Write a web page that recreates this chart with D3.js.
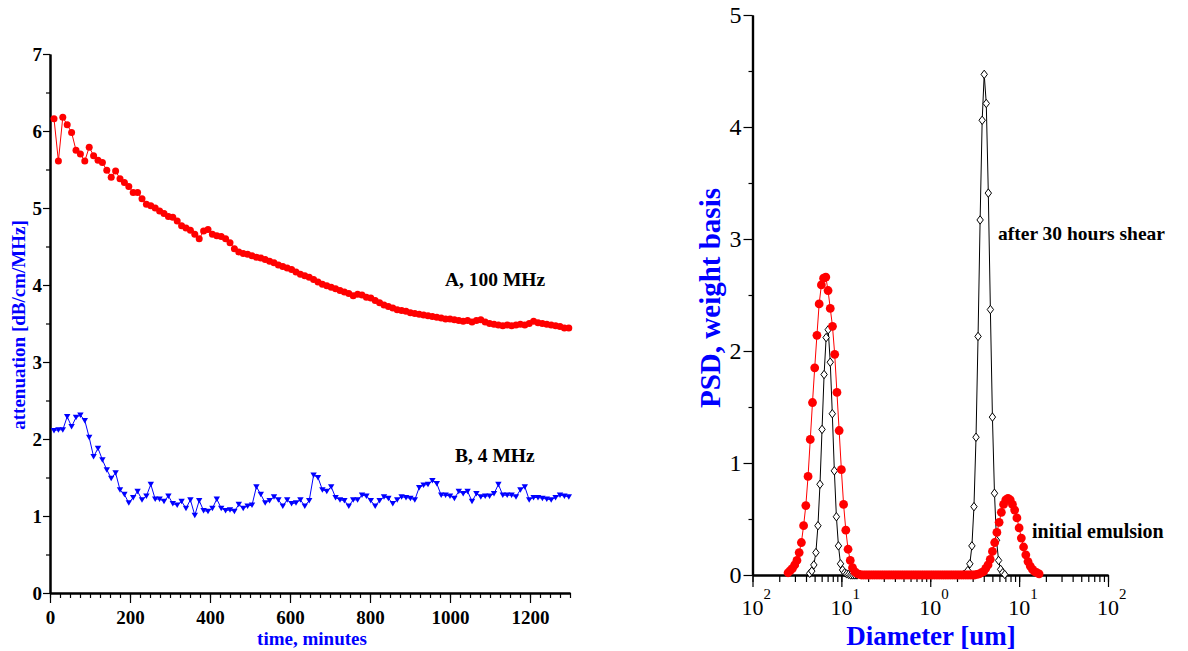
<!DOCTYPE html>
<html><head><meta charset="utf-8">
<script src="https://cdn.jsdelivr.net/npm/d3@7"></script>
<style>
body{margin:0;background:#fff}
svg{display:block}
text{font-family:"Liberation Serif","Times New Roman",serif}
</style>
</head><body>
<svg id="c" width="1188" height="651"></svg>
<script>
// ---------- Left chart data ----------
const timeMin = [10,21,32,43,54,65,76,87,98,109,120,131,142,153,164,175,186,197,208,219,
230,241,252,263,274,285,296,307,318,329,340,351,362,373,384,395,406,417,428,439,
450,461,472,483,494,505,516,527,538,549,560,571,582,593,604,615,626,637,648,659,
670,681,692,703,714,725,736,747,758,769,780,791,802,813,824,835,846,857,868,879,
890,901,912,923,934,945,956,967,978,989,1000,1011,1022,1033,1044,1055,1066,1077,1088,1099,
1110,1121,1132,1143,1154,1165,1176,1187,1198,1209,1220,1231,1242,1253,1264,1275,1286,1297];
const attenA = [6.16,5.61,6.18,6.08,5.98,5.75,5.70,5.61,5.79,5.68,5.62,5.59,5.49,5.40,5.48,5.38,5.33,5.28,5.20,5.20,
5.12,5.05,5.03,5.00,4.96,4.93,4.89,4.88,4.83,4.77,4.74,4.71,4.66,4.60,4.70,4.72,4.66,4.64,4.63,4.60,
4.55,4.47,4.43,4.41,4.40,4.38,4.36,4.35,4.33,4.31,4.29,4.26,4.24,4.22,4.20,4.17,4.14,4.12,4.10,4.07,
4.04,4.01,3.99,3.97,3.95,3.93,3.91,3.89,3.86,3.88,3.87,3.84,3.83,3.80,3.77,3.74,3.72,3.70,3.68,3.67,
3.66,3.64,3.63,3.62,3.61,3.60,3.59,3.58,3.57,3.56,3.56,3.55,3.54,3.53,3.54,3.52,3.54,3.55,3.52,3.50,
3.49,3.48,3.47,3.48,3.47,3.48,3.49,3.48,3.50,3.53,3.51,3.50,3.49,3.48,3.47,3.46,3.44,3.44];
const attenB = [2.11,2.12,2.12,2.29,2.16,2.28,2.31,2.24,2.02,1.77,
1.88,1.73,1.60,1.49,1.56,1.34,1.28,1.17,1.24,1.32,
1.21,1.26,1.41,1.22,1.22,1.19,1.26,1.16,1.14,1.19,
1.10,1.21,1.01,1.20,1.07,1.06,1.10,1.22,1.10,1.07,
1.08,1.06,1.15,1.10,1.13,1.14,1.38,1.28,1.17,1.20,
1.25,1.21,1.13,1.21,1.16,1.17,1.21,1.13,1.20,1.53,
1.50,1.34,1.32,1.38,1.24,1.21,1.20,1.13,1.21,1.21,
1.27,1.26,1.20,1.13,1.20,1.25,1.23,1.16,1.21,1.25,
1.24,1.23,1.21,1.37,1.40,1.41,1.46,1.42,1.27,1.27,
1.26,1.23,1.32,1.29,1.32,1.19,1.29,1.25,1.26,1.26,
1.29,1.41,1.27,1.27,1.27,1.25,1.34,1.38,1.21,1.24,
1.24,1.23,1.22,1.21,1.24,1.27,1.26,1.25];
const leftYTicks = [0,1,2,3,4,5,6,7];
const leftXTicks = [0,200,400,600,800,1000,1200];

// ---------- Right chart data ----------
const diamRed = [0.02512,0.02661,0.02818,0.02985,0.03162,0.03350,0.03548,0.03758,0.03981,0.04217,0.04467,0.04732,
0.05012,0.05309,0.05623,0.05957,0.06310,0.06683,0.07079,0.07499,0.07943,0.08414,0.08913,0.09441,
0.1000,0.1059,0.1122,0.1189,0.1259,0.1334,0.1413,0.1496,0.1585,0.1679,0.1778,0.1884,0.1995,0.2113,0.2239,0.2371,
0.2512,0.2661,0.2818,0.2985,0.3162,0.3350,0.3548,0.3758,0.3981,0.4217,0.4467,0.4732,0.5012,0.5309,0.5623,0.5957,
0.6310,0.6683,0.7079,0.7499,0.7943,0.8414,0.8913,0.9441,
1.000,1.059,1.122,1.189,1.259,1.334,1.413,1.496,1.585,1.679,1.778,1.884,1.995,2.113,2.239,2.371,
2.512,2.661,2.818,2.985,3.162,3.350,3.548,3.758,3.981,4.217,4.467,4.732,5.012,5.309,5.623,5.957,
6.310,6.683,7.079,7.499,7.943,8.414,8.913,9.441,
10.00,10.59,11.22,11.89,12.59,13.34,14.13,14.96,15.85,16.79];
const psdRed = [0.02,0.04,0.06,0.09,0.13,0.20,0.29,0.44,0.62,0.88,
1.21,1.54,1.85,2.14,2.42,2.59,2.65,2.66,2.54,2.38,
2.22,1.97,1.63,1.29,0.94,0.63,0.40,0.23,0.13,0.065,
0.03,0.015,0.005,
0,0,0,0,0,0,0,0,0,0, 0,0,0,0,0,0,0,0,0,0, 0,0,0,0,0,0,0,0,0,0, 0,0,0,0,0,0,0,0,0,0, 0,0,0,0,0,0,0,0,0,0, 0,
0.00,0.005,0.01,0.02,0.03,0.06,0.09,0.14,0.21,0.29,
0.38,0.47,0.56,0.63,0.67,0.685,0.67,0.63,0.58,0.51,
0.42,0.33,0.25,0.18,0.12,0.08,0.05,0.03,0.02,0.01];
const diamBlack = [0.04405,0.04646,0.04899,0.05167,0.05449,0.05746,0.06060,0.06391,0.06740,0.07108,0.07496,0.07905,
0.08337,0.08792,0.09272,0.09778,0.1031,0.1088,0.1147,0.1210,0.1276,0.1345,0.1419,0.1496,
2.379,2.509,2.646,2.790,2.943,3.103,3.273,3.451,3.640,3.839,4.048,4.269,4.502,4.748,5.007,5.280,5.569,5.873,6.193,6.531,6.888];
const psdBlack = [0.015,0.035,0.09,0.20,0.44,0.81,1.30,1.79,2.12,2.19,1.90,1.44,
0.93,0.52,0.26,0.10,0.045,0.02,0.01,0.005,0,0,0,0,
0.003,0.015,0.04,0.10,0.26,0.61,1.23,2.13,3.17,4.06,4.47,4.21,3.41,2.37,1.41,0.73,0.31,0.13,0.05,0.02,0.005];
const rightYTicks = [0,1,2,3,4,5];
const rightXTickValues = [0.01,0.1,1,10,100];
const rightXTickSup = ["2","1","0","1","2"];

// ---------- Drawing ----------
const svg = d3.select("#c");
const FONT = '"Liberation Serif","Times New Roman",serif';
const BLUE = "#0000ff", RED = "#ff0000";

function fixAxis(g, domainWidth){
  g.attr("font-family", FONT);
  g.select(".domain").attr("stroke","#000").attr("stroke-width",domainWidth);
  g.selectAll(".tick line").attr("stroke","#000").attr("stroke-width",1.2);
  g.selectAll(".tick text").attr("fill","#000");
}

// Left chart scales
const xL = d3.scaleLinear().domain([0,1300]).range([50,570]);
const yL = d3.scaleLinear().domain([0,7]).range([593,54]);

// minor ticks
const gLxm = svg.append("g").attr("transform",`translate(0,${yL(0)})`)
  .call(d3.axisBottom(xL).tickValues(d3.range(0,1301,25)).tickSize(5).tickSizeOuter(0).tickFormat(""));
fixAxis(gLxm,2);
const gLym = svg.append("g").attr("transform",`translate(${xL(0)},0)`)
  .call(d3.axisLeft(yL).tickValues(d3.range(0.5,7,1)).tickSize(4).tickSizeOuter(0).tickFormat(""));
fixAxis(gLym,2);
// major ticks
const gLx = svg.append("g").attr("transform",`translate(0,${yL(0)})`)
  .call(d3.axisBottom(xL).tickValues(leftXTicks).tickSize(10).tickSizeOuter(0).tickPadding(8).tickFormat(d3.format("d")));
fixAxis(gLx,2);
gLx.attr("font-size",19).attr("font-weight","bold");
const gLy = svg.append("g").attr("transform",`translate(${xL(0)},0)`)
  .call(d3.axisLeft(yL).tickValues(leftYTicks).tickSize(7).tickSizeOuter(0).tickPadding(1).tickFormat(d3.format("d")));
fixAxis(gLy,2);
gLy.attr("font-size",19).attr("font-weight","bold");

// Left series
const seriesA = timeMin.map((t,i)=>({t, v:attenA[i]}));
const seriesB = timeMin.map((t,i)=>({t, v:attenB[i]}));
const lineL = d3.line().x(d=>xL(d.t)).y(d=>yL(d.v));

svg.append("path").datum(seriesA).attr("d",lineL).attr("fill","none").attr("stroke",RED).attr("stroke-width",1);
svg.append("g").selectAll("circle").data(seriesA).join("circle")
  .attr("cx",d=>xL(d.t)).attr("cy",d=>yL(d.v)).attr("r",3.5).attr("fill",RED);

svg.append("path").datum(seriesB).attr("d",lineL).attr("fill","none").attr("stroke",BLUE).attr("stroke-width",1);
svg.append("g").selectAll("path").data(seriesB).join("path")
  .attr("transform",d=>`translate(${xL(d.t)},${yL(d.v)})`)
  .attr("d","M-3.2,-2.6L3.2,-2.6L0,2.9Z").attr("fill",BLUE);

// Left labels
svg.append("text").attr("x",445).attr("y",286).attr("font-size",19.5).attr("font-weight","bold").attr("fill","#000").text("A, 100 MHz");
svg.append("text").attr("x",455).attr("y",462).attr("font-size",19.5).attr("font-weight","bold").attr("fill","#000").text("B, 4 MHz");
svg.append("text").attr("x",312).attr("y",645).attr("text-anchor","middle").attr("font-size",19).attr("font-weight","bold").attr("fill",BLUE).text("time, minutes");
svg.append("text").attr("transform","translate(25,325) rotate(-90)").attr("text-anchor","middle").attr("font-size",19).attr("font-weight","bold").attr("fill",BLUE).text("attenuation [dB/cm/MHz]");

// Right chart scales
const xR = d3.scaleLog().domain([0.01,100]).range([752.5,1108]);
const yR = d3.scaleLinear().domain([0,5]).range([575,15]);

const gRxm = svg.append("g").attr("transform",`translate(0,${yR(0)})`)
  .call(d3.axisBottom(xR).tickValues(xR.ticks()).tickSize(7).tickSizeOuter(0).tickFormat(""));
fixAxis(gRxm,2.2);
const gRx = svg.append("g").attr("transform",`translate(0,${yR(0)})`)
  .call(d3.axisBottom(xR).tickValues(rightXTickValues).tickSize(12).tickSizeOuter(0).tickFormat(""));
fixAxis(gRx,2.2);
// "10" + superscript labels
const lab = svg.append("g").attr("font-family",FONT).attr("fill","#000");
rightXTickValues.forEach((v,i)=>{
  const x = xR(v);
  lab.append("text").attr("x",x).attr("y",615).attr("text-anchor","middle").attr("font-size",22).text("10");
  lab.append("text").attr("x",x+11).attr("y",599).attr("font-size",15).text(rightXTickSup[i]);
});

const gRym = svg.append("g").attr("transform",`translate(${xR(0.01)},0)`)
  .call(d3.axisLeft(yR).tickValues(d3.range(0.5,5,1)).tickSize(4).tickSizeOuter(0).tickFormat(""));
fixAxis(gRym,2.2);
const gRy = svg.append("g").attr("transform",`translate(${xR(0.01)},0)`)
  .call(d3.axisLeft(yR).tickValues(rightYTicks).tickSize(9).tickSizeOuter(0).tickPadding(2).tickFormat(d3.format("d")));
fixAxis(gRy,2.2);
gRy.attr("font-size",24);

// Right series
const black = diamBlack.map((d,i)=>({d, v:psdBlack[i]}));
const red = diamRed.map((d,i)=>({d, v:psdRed[i]}));
const lineR = d3.line().x(p=>xR(p.d)).y(p=>yR(p.v));

svg.append("path").datum(black).attr("d",lineR).attr("fill","none").attr("stroke","#000").attr("stroke-width",1);
svg.append("g").selectAll("path").data(black).join("path")
  .attr("transform",p=>`translate(${xR(p.d)},${yR(p.v)})`)
  .attr("d","M0,-4.2L3.2,0L0,4.2L-3.2,0Z").attr("fill","#fff").attr("stroke","#000").attr("stroke-width",1);

svg.append("path").datum(red).attr("d",lineR).attr("fill","none").attr("stroke",RED).attr("stroke-width",1);
svg.append("g").selectAll("circle").data(red).join("circle")
  .attr("cx",p=>xR(p.d)).attr("cy",p=>yR(p.v)).attr("r",4.4).attr("fill",RED);

// Right labels
svg.append("text").attr("x",998).attr("y",240).attr("font-size",19.5).attr("font-weight","bold").attr("fill","#000").text("after 30 hours shear");
svg.append("text").attr("x",1032).attr("y",538).attr("font-size",20).attr("font-weight","bold").attr("fill","#000").text("initial emulsion");
svg.append("text").attr("x",931).attr("y",645).attr("text-anchor","middle").attr("font-size",27).attr("font-weight","bold").attr("fill",BLUE).text("Diameter [um]");
svg.append("text").attr("transform","translate(719.5,298) rotate(-90)").attr("text-anchor","middle").attr("font-size",29).attr("font-weight","bold").attr("fill",BLUE).text("PSD, weight basis");
</script>
</body></html>
